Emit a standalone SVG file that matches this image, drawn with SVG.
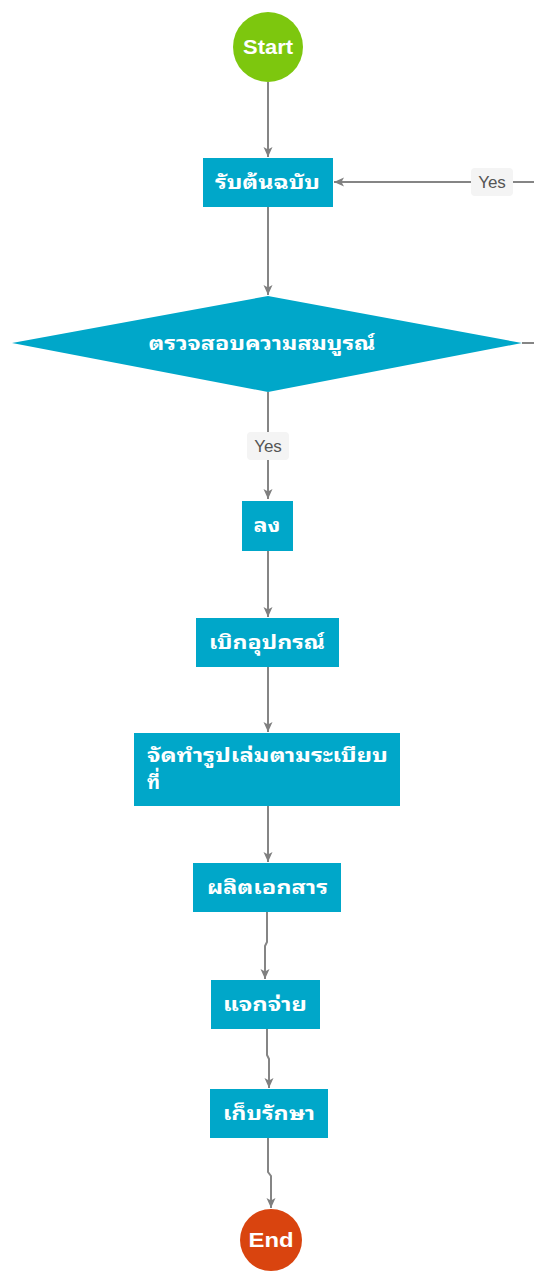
<svg xmlns="http://www.w3.org/2000/svg" width="534" height="1272" viewBox="0 0 534 1272">
<defs>
<marker id="arr" viewBox="0 0 10 10" refX="10" refY="5" markerWidth="10" markerHeight="10" markerUnits="userSpaceOnUse" orient="auto">
<path d="M0,0.5 L10,5 L0,9.5 L2.5,5 Z" fill="#7f7f7f"/>
</marker>
<style>
.c{fill:none;stroke:#858585;stroke-width:2}
.box{fill:#00a7c9}
.t{font-family:"Noto Sans Thai Looped","Tahoma","Leelawadee UI","Noto Sans Thai","Noto Sans",sans-serif;font-weight:bold;font-size:19px;fill:#ffffff}
.e{font-family:"Liberation Sans",Arial,sans-serif;font-weight:bold;font-size:21px;fill:#ffffff}
.lb{fill:#f4f4f4}
.lt{font-family:"Liberation Sans",Arial,sans-serif;font-size:17px;fill:#555555}
</style>
</defs>
<rect width="534" height="1272" fill="#ffffff"/>
<g id="connectors">
<path class="c" d="M268,82 V157" marker-end="url(#arr)"/>
<path class="c" d="M268,207 V295" marker-end="url(#arr)"/>
<path class="c" d="M268,392 V499" marker-end="url(#arr)"/>
<path class="c" d="M522,343 H545 V182 H334" marker-end="url(#arr)"/>
<path class="c" d="M268,551 V617" marker-end="url(#arr)"/>
<path class="c" d="M268,667 V732" marker-end="url(#arr)"/>
<path class="c" d="M268,806 V862" marker-end="url(#arr)"/>
<path class="c" d="M267,912 V942 L265,946 V979" marker-end="url(#arr)"/>
<path class="c" d="M267,1029 V1055 L269,1059 V1088" marker-end="url(#arr)"/>
<path class="c" d="M268,1138 V1172 L271,1176 V1208" marker-end="url(#arr)"/>
<rect class="lb" x="471" y="168" width="42" height="28" rx="4"/>
<text class="lt" x="492" y="188" text-anchor="middle">Yes</text>
<rect class="lb" x="247" y="432" width="42" height="28" rx="4"/>
<text class="lt" x="268" y="452" text-anchor="middle">Yes</text>
</g>
<g id="start">
<circle cx="268" cy="47" r="35" fill="#7dc70e"/>
<text class="e" x="268" y="54" text-anchor="middle" textLength="50" lengthAdjust="spacingAndGlyphs">Start</text>
</g>
<g id="n1">
<rect class="box" x="203" y="158" width="130" height="49"/>
<text class="t" x="267.5" y="189" text-anchor="middle" textLength="105" lengthAdjust="spacingAndGlyphs">รับต้นฉบับ</text>
</g>
<g id="n2">
<polygon class="box" points="268,296 522,343 268,392 12,343"/>
<text class="t" x="262" y="350" text-anchor="middle" textLength="227" lengthAdjust="spacingAndGlyphs">ตรวจสอบความสมบูรณ์</text>
</g>
<g id="n3">
<rect class="box" x="242" y="501" width="51" height="50"/>
<text class="t" x="267" y="532" text-anchor="middle" textLength="27" lengthAdjust="spacingAndGlyphs">ลง</text>
</g>
<g id="n4">
<rect class="box" x="196" y="618" width="143" height="49"/>
<text class="t" x="267" y="649" text-anchor="middle" textLength="116" lengthAdjust="spacingAndGlyphs">เบิกอุปกรณ์</text>
</g>
<g id="n5">
<rect class="box" x="134" y="733" width="266" height="73"/>
<text class="t" x="147" y="762" textLength="241" lengthAdjust="spacingAndGlyphs">จัดทำรูปเล่มตามระเบียบ</text>
<text class="t" x="147" y="789">ที่</text>
</g>
<g id="n6">
<rect class="box" x="193" y="863" width="148" height="49"/>
<text class="t" x="267.5" y="894" text-anchor="middle" textLength="121" lengthAdjust="spacingAndGlyphs">ผลิตเอกสาร</text>
</g>
<g id="n7">
<rect class="box" x="211" y="980" width="109" height="49"/>
<text class="t" x="265" y="1011" text-anchor="middle" textLength="84" lengthAdjust="spacingAndGlyphs">แจกจ่าย</text>
</g>
<g id="n8">
<rect class="box" x="210" y="1089" width="118" height="49"/>
<text class="t" x="269" y="1120" text-anchor="middle" textLength="92" lengthAdjust="spacingAndGlyphs">เก็บรักษา</text>
</g>
<g id="end">
<circle cx="271" cy="1240" r="31" fill="#d9440f"/>
<text class="e" x="271" y="1247" text-anchor="middle" textLength="45" lengthAdjust="spacingAndGlyphs">End</text>
</g>
</svg>
